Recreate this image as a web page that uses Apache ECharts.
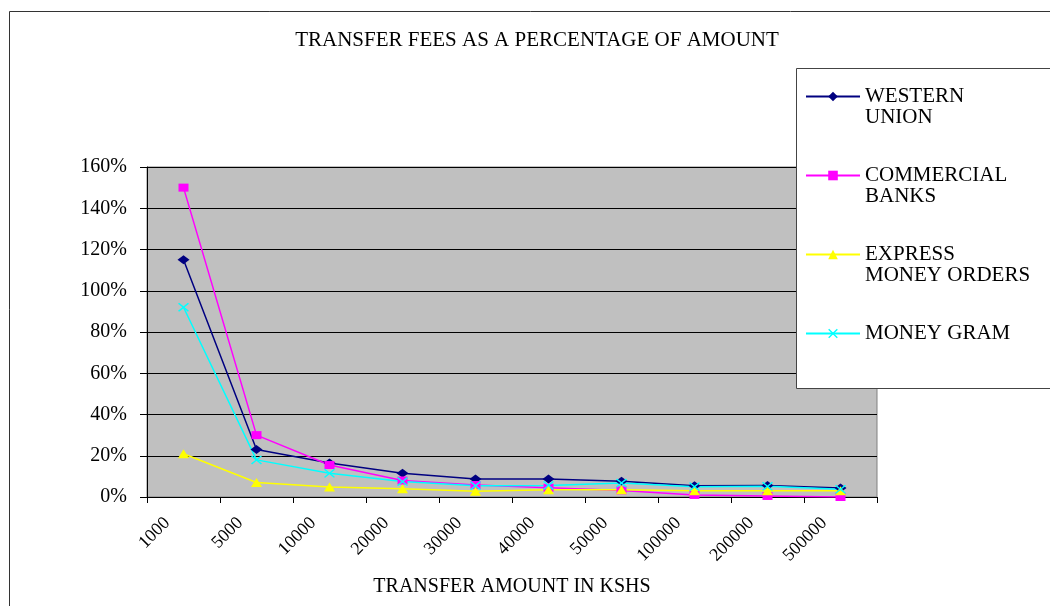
<!DOCTYPE html>
<html>
<head>
<meta charset="utf-8">
<script src="https://cdn.jsdelivr.net/npm/echarts@6/dist/echarts.min.js"></script>
<style>
html, body { margin: 0; padding: 0; background: #fff; }
#chart { width: 1050px; height: 606px; }
</style>
</head>
<body>
<div id="chart"></div>
<script>
// transfer amount categories (KSHS)
const categories = ['1000', '5000', '10000', '20000', '30000', '40000', '50000', '100000', '200000', '500000'];

// fees as % of amount
const westernUnion = [115, 23, 16.5, 11.5, 8.7, 8.7, 7.6, 5.5, 5.6, 4.4];
const commercialBanks = [150, 30, 15.5, 8, 5.8, 4.5, 3.2, 1, 0.5, 0];
const expressMoneyOrders = [21, 7, 4.8, 4, 2.8, 3.5, 3.5, 3, 3, 3];
const moneyGram = [92, 18, 11.5, 7.5, 5.5, 5.6, 6.8, 5, 5.2, 3.7];

const seriesNames = ['WESTERN UNION', 'COMMERCIAL BANKS', 'EXPRESS MONEY ORDERS', 'MONEY GRAM'];
const legendLabels = ['WESTERN\nUNION', 'COMMERCIAL\nBANKS', 'EXPRESS\nMONEY ORDERS', 'MONEY GRAM'];

const font = 'Liberation Serif';
// filled "x" marker
const crossPath = 'path://M0,1L1,0L5,4L9,0L10,1L6,5L10,9L9,10L5,6L1,10L0,9L4,5Z';

function lineSeries(name, data, color, symbol, size) {
  return {
    name: name,
    type: 'line',
    data: data,
    symbol: symbol,
    symbolSize: size,
    showAllSymbol: true,
    lineStyle: { color: color, width: 1.5 },
    itemStyle: { color: color },
    emphasis: { disabled: true }
  };
}

const chart = echarts.init(document.getElementById('chart'));

const option = {
  animation: false,
  title: {
    text: 'TRANSFER FEES AS A PERCENTAGE OF AMOUNT',
    left: 537,
    top: 30,
    padding: 0,
    textAlign: 'center',
    textStyle: { fontFamily: font, fontSize: 21, fontWeight: 'normal', color: '#000' }
  },
  legend: {
    orient: 'vertical',
    left: 805,
    top: 65,
    padding: 0,
    itemWidth: 54,
    itemHeight: 12,
    itemGap: 16,
    z: 6,
    selectedMode: false,
    textStyle: { fontFamily: font, fontSize: 21, color: '#000', lineHeight: 21 },
    // blank line on top so the marker lines up with the first text line
    formatter: function (name) {
      const label = legendLabels[seriesNames.indexOf(name)];
      return label.indexOf('\n') >= 0 ? '\n' + label : '\n' + label + '\n';
    }
  },
  graphic: [
    {
      type: 'rect',
      silent: true,
      z: -1,
      shape: { x: 9.5, y: 11.5, width: 1200, height: 800 },
      style: { fill: 'none', stroke: '#333', lineWidth: 1 }
    },
    {
      type: 'rect',
      silent: true,
      z: 5,
      shape: { x: 796.5, y: 68.5, width: 400, height: 320 },
      style: { fill: '#fff', stroke: '#444', lineWidth: 1 }
    }
  ],
  grid: {
    left: 147,
    right: 173,
    top: 167,
    bottom: 109,
    show: true,
    backgroundColor: '#c0c0c0',
    borderColor: '#808080',
    borderWidth: 1,
    outerBoundsMode: 'none'
  },
  xAxis: {
    type: 'category',
    data: categories,
    boundaryGap: true,
    name: 'TRANSFER AMOUNT IN KSHS',
    nameLocation: 'middle',
    nameGap: 80,
    nameTextStyle: { fontFamily: font, fontSize: 20, color: '#000' },
    axisLine: { lineStyle: { color: '#000', width: 1 } },
    axisTick: { show: true, length: 6, lineStyle: { color: '#000' } },
    axisLabel: {
      interval: 0,
      rotate: 45,
      margin: 7,
      padding: [0, 23, 0, 0],
      fontFamily: font,
      fontSize: 18,
      color: '#000'
    },
    splitLine: { show: false }
  },
  yAxis: {
    type: 'value',
    min: 0,
    max: 160,
    interval: 20,
    axisLine: { show: true, lineStyle: { color: '#000', width: 1 } },
    axisTick: { show: true, length: 7, lineStyle: { color: '#000' } },
    axisLabel: { formatter: '{value}%', margin: 20, fontFamily: font, fontSize: 20, color: '#000' },
    splitLine: { show: true, lineStyle: { color: '#000', width: 1 } }
  },
  series: [
    lineSeries(seriesNames[0], westernUnion, '#000080', 'diamond', [12, 9]),
    lineSeries(seriesNames[1], commercialBanks, '#ff00ff', 'rect', [10, 8]),
    lineSeries(seriesNames[2], expressMoneyOrders, '#ffff00', 'triangle', [11, 9]),
    lineSeries(seriesNames[3], moneyGram, '#00ffff', crossPath, [11, 9])
  ]
};

chart.setOption(option);

window.addEventListener('resize', () => {
  chart.resize();
});
</script>
</body>
</html>
